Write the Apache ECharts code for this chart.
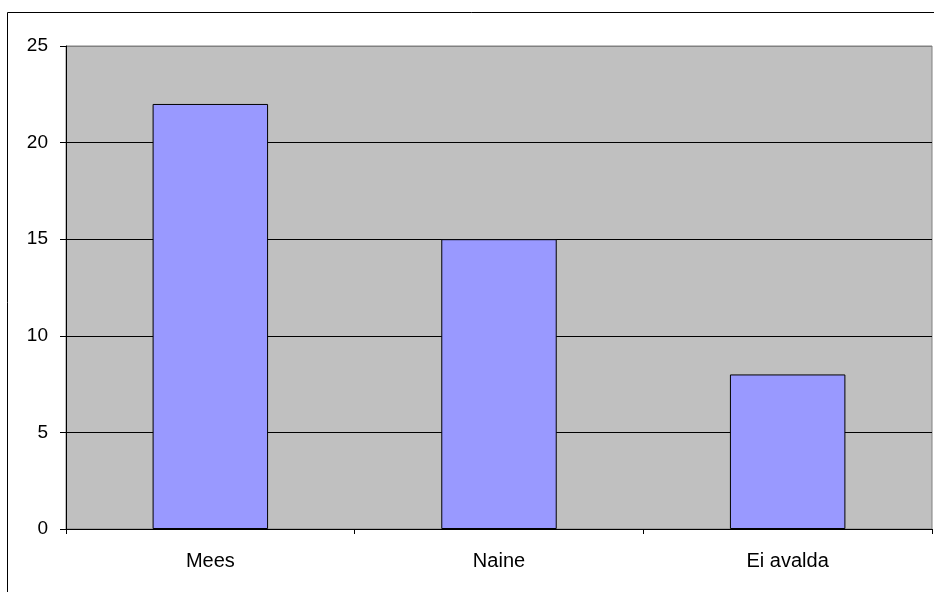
<!DOCTYPE html>
<html>
<head>
<meta charset="utf-8">
<script src="https://cdn.jsdelivr.net/npm/echarts@6/dist/echarts.min.js"></script>
<style>
  html, body { margin: 0; padding: 0; background: #fff; }
  #main { width: 934px; height: 592px; }
</style>
</head>
<body>
<div id="main"></div>
<script>
var categories = ['Mees', 'Naine', 'Ei avalda'];
var values = [22, 15, 8];
var yTicks = [0, 5, 10, 15, 20, 25];

var chart = echarts.init(document.getElementById('main'));
var option = {
    backgroundColor: '#fff',
    animation: false,
    textStyle: { fontFamily: 'Liberation Sans, Arial, sans-serif' },
    graphic: [
        {
            type: 'rect',
            shape: { x: 7.5, y: 12.5, width: 940, height: 600 },
            style: { fill: 'none', stroke: '#000', lineWidth: 1 },
            silent: true
        }
    ],
    grid: {
        left: 66,
        top: 46,
        right: 2,
        bottom: 63,
        show: true,
        backgroundColor: '#C0C0C0',
        borderColor: '#808080',
        borderWidth: 1
    },
    xAxis: {
        type: 'category',
        data: categories,
        axisLine: { lineStyle: { color: '#000', width: 1 } },
        axisTick: { show: true, alignWithLabel: false, interval: 0, length: 5, lineStyle: { color: '#000' } },
        axisLabel: { color: '#000', fontSize: 20, margin: 22 }
    },
    yAxis: {
        type: 'value',
        min: yTicks[0],
        max: yTicks[yTicks.length - 1],
        interval: 5,
        axisLine: { show: true, lineStyle: { color: '#000', width: 1 } },
        axisTick: { show: true, length: 6, lineStyle: { color: '#000' } },
        axisLabel: { color: '#000', fontSize: 19, margin: 18 },
        splitLine: {
            show: true,
            lineStyle: { color: ['#000', '#000', '#000', '#000', '#000', '#808080'], width: 1 }
        }
    },
    series: [
        {
            type: 'bar',
            data: values,
            barWidth: '40%',
            itemStyle: { color: '#9999FF', borderColor: '#000', borderWidth: 1 }
        }
    ]
};
chart.setOption(option);
</script>
</body>
</html>
